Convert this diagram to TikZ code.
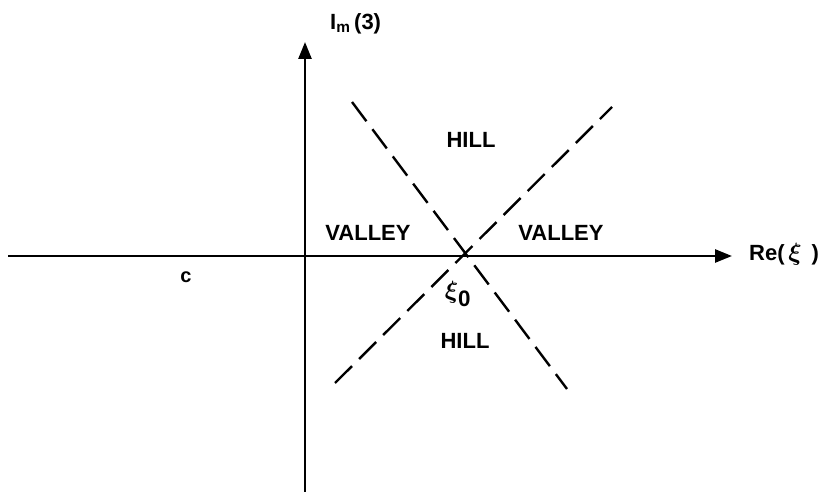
\documentclass[tikz,border=0pt]{standalone}
\usepackage{fontspec}
\setmainfont{Liberation Sans}
\usepackage{amsmath}
\usetikzlibrary{arrows.meta}

\begin{document}
\begin{tikzpicture}[x=1pt,y=-1pt,
    axis/.style={line width=2.6pt,-{Triangle[length=17pt,width=13pt]}},
    ridge/.style={line width=2.4pt,dash pattern=on 24pt off 10pt},
    region/.style={font=\fontsize{22}{24}\selectfont\bfseries,inner sep=0pt}]
    \useasboundingbox (0,0) rectangle (829,492);
    % axes
    \coordinate (west) at (8,256);
    \coordinate (east) at (732,256);
    \coordinate (south) at (305,492);
    \coordinate (north) at (305,42);
    \draw[axis] (west)--(east);
    \draw[axis] (south)--(north);
    \node[region,anchor=west] (relabel) at (749,254){Re(\,{\fontsize{30}{30}\selectfont$\boldsymbol{\xi}$}\, )};
    \node[region,anchor=west] (imlabel) at (330,24){I\textsubscript{m}\,(3)};
    % steepest lines through the saddle
    \coordinate (dn1) at (352,102);
    \coordinate (dn2) at (567,389);
    \coordinate (up1) at (335,383);
    \coordinate (up2) at (612,107);
    \draw[ridge] (dn1)--(dn2);
    \draw[ridge] (up1)--(up2);
    \node[region] (hilltop) at (471,140){HILL};
    \node[region] (hillbot) at (465,341){HILL};
    \node[region] (valleyl) at (368,233){VALLEY};
    \node[region] (valleyr) at (561,233){VALLEY};
    \node[region,font=\fontsize{32}{32}\selectfont] (saddle) at (458,294){$\boldsymbol{\xi}_{\mathbf 0}$};
    \node[region,font=\fontsize{20}{22}\selectfont\bfseries] (cpt) at (186,277){c};
  \end{tikzpicture}
\end{document}
